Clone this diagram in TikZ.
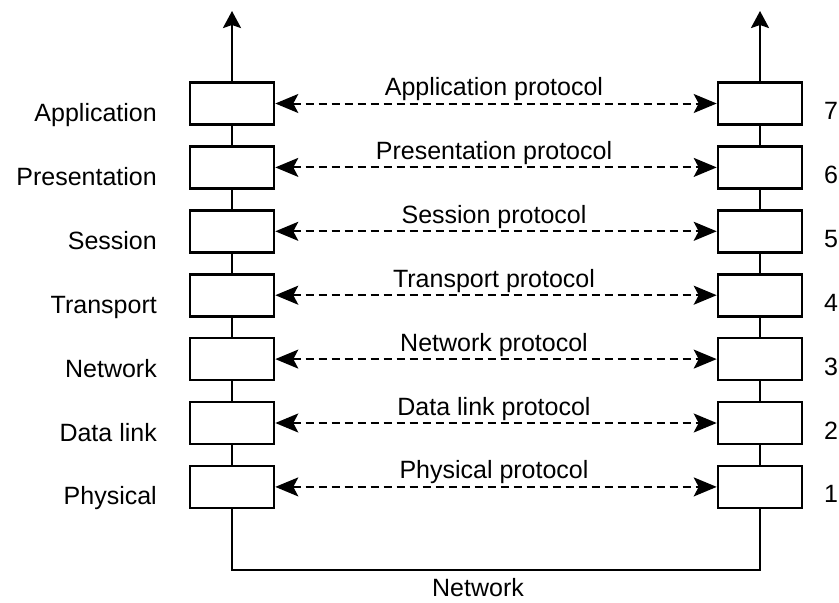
\documentclass[tikz,border=0pt]{standalone}
\usepackage{fontspec}
\setmainfont{Liberation Sans}
\usetikzlibrary{arrows.meta,positioning}

\begin{document}
\begin{tikzpicture}[x=1pt, y=1pt,
    layer/.style={draw, line width=2.6pt, minimum width=84pt, minimum height=42pt, inner sep=0pt},
    link/.style={line width=2.6pt},
    uparr/.style={line width=2.6pt, -{Stealth[length=17pt, width=18pt, inset=3pt]}},
    proto/.style={line width=2pt, dash pattern=on 8pt off 5pt,
        {Stealth[length=23pt, width=19pt, inset=5pt]}-{Stealth[length=23pt, width=19pt, inset=5pt]}},
    lbl/.style={font=\fontsize{25}{30}\selectfont, inner sep=0pt}
]
\useasboundingbox (0,0) rectangle (839,-603);

% the seven layers on both hosts
\foreach \name [count=\i] in {Application,Presentation,Session,Transport,Network,Data link,Physical} {
  \pgfmathsetmacro\cy{-103.5-63.9*(\i-1)}
  \pgfmathtruncatemacro\num{8-\i}
  \node[layer] (l\i) at (232,\cy) {};
  \node[layer] (r\i) at (760,\cy) {};
  \node[lbl, anchor=base east] (n\i) at (157,\cy-18) {\name};
  \node[lbl, anchor=base] (k\i) at (831,\cy-16) {\num};
  \draw[proto] (l\i.east) -- (r\i.west);
  \node[lbl, anchor=base] (p\i) at (494,\cy+8) {\name\ protocol};
}

% stacks
\foreach \i [evaluate=\i as \j using int(\i+1)] in {1,...,6} {
  \draw[link] (l\i.south) -- (l\j.north);
  \draw[link] (r\i.south) -- (r\j.north);
}

\coordinate (ltip) at (232,-11);
\coordinate (rtip) at (760,-11);
\draw[uparr] (l1.north) -- (ltip);
\draw[uparr] (r1.north) -- (rtip);

% physical medium
\coordinate (net) at (496,-570);
\draw[link] (l7.south) |- (net) -| (r7.south);
\node[lbl, anchor=base] (netlbl) at (478,-596) {Network};
\end{tikzpicture}
\end{document}
